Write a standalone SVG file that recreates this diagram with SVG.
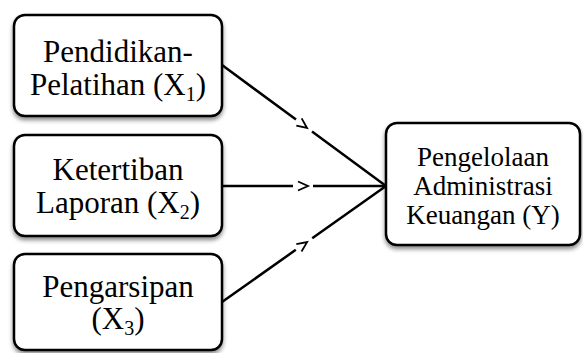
<svg xmlns="http://www.w3.org/2000/svg" width="583" height="353" viewBox="0 0 583 353">
<defs>
<filter id="sh" x="-10%" y="-10%" width="120%" height="130%">
<feDropShadow dx="0" dy="3" stdDeviation="2" flood-color="#000" flood-opacity="0.45"/>
</filter>
</defs>
<style>
.box{fill:#fff;stroke:#000;stroke-width:2.5;filter:url(#sh)}
text{font-family:"Liberation Serif","Times New Roman",Times,Tinos,"Noto Serif","DejaVu Serif",FreeSerif,serif;fill:#000;text-anchor:middle}
.t{font-size:31px}
.ty{font-size:27px}
.sub{font-size:20px}
.ln{fill:none;stroke:#000;stroke-width:2.5}
.ch{fill:none;stroke:#000;stroke-width:1.8}
</style>
<rect width="583" height="353" fill="#fff"/>
<g id="connectors">
<path class="ln" d="M222,65 L296,119.6 M312,131.4 L386,186"/>
<g transform="translate(303,125) rotate(36.4)"><path class="ch" d="M-5,-4.5 L5,0 L-5,4.5"/></g>
<path class="ln" d="M222,186 L293,186 M313,186 L386,186"/>
<g transform="translate(303,186)"><path class="ch" d="M-5,-4.5 L5,0 L-5,4.5"/></g>
<path class="ln" d="M222,302 L295.8,249.8 M312.2,238.2 L386,186"/>
<g transform="translate(303,245) rotate(-35.3)"><path class="ch" d="M-5,-4.5 L5,0 L-5,4.5"/></g>
</g>
<g id="x1">
<rect class="box" x="14" y="15" width="208" height="101" rx="11"/>
<text class="t" x="118" y="62">Pendidikan-</text>
<text class="t" x="118" y="95">Pelatihan (X<tspan class="sub" dy="6">1</tspan><tspan dy="-6">)</tspan></text>
</g>
<g id="x2">
<rect class="box" x="14" y="135" width="208" height="101" rx="11"/>
<text class="t" x="118" y="180">Ketertiban</text>
<text class="t" x="118" y="213">Laporan (X<tspan class="sub" dy="6">2</tspan><tspan dy="-6">)</tspan></text>
</g>
<g id="x3">
<rect class="box" x="14" y="254" width="208" height="96" rx="11"/>
<text class="t" x="118" y="297">Pengarsipan</text>
<text class="t" x="118" y="329">(X<tspan class="sub" dy="6">3</tspan><tspan dy="-6">)</tspan></text>
</g>
<g id="y">
<rect class="box" x="386" y="123" width="194" height="122" rx="11"/>
<text class="ty" x="483" y="166">Pengelolaan</text>
<text class="ty" x="483" y="195">Administrasi</text>
<text class="ty" x="483" y="224">Keuangan (Y)</text>
</g>
</svg>
